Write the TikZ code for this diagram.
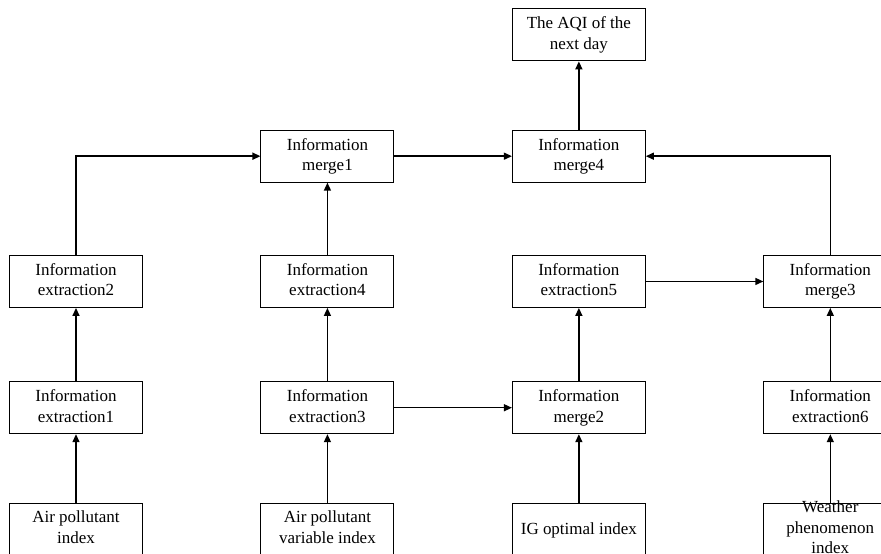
\documentclass[tikz,border=0pt]{standalone}
\usepackage{fontspec}
\setmainfont{Liberation Serif}
\usetikzlibrary{positioning,arrows.meta}

\begin{document}
\begin{tikzpicture}[node distance=2.15cm and 3.525cm,
    boxtext/.style={align=center,inner sep=0pt,font=\fontsize{14.5}{17.4}\selectfont,
                    execute at begin node={\rule{0pt}{0.9em}},
                    execute at end node={\rule[-0.22em]{0pt}{0pt}}},
    box/.style={boxtext,rectangle,draw,line width=0.8pt,minimum width=3.99cm,minimum height=1.56cm},
    link/.style={line width=1.2pt,-{Triangle[length=0.24cm,width=0.21cm]}}]
            \useasboundingbox (-2.28,-0.75) rectangle (24.15,15.87);
            \node[box] (api)               {Air pollutant\\index};
            \node[box] (avi) [right = of api] {Air pollutant\\variable index};
            \node[box] (ig)  [right = of avi] {IG optimal index};
            \node[box] (wpi) [right = of ig]  {};
            \node[boxtext] (wpt) at (wpi) {Weather\\phenomenon\\index};
            \node[box] (ie1) [above = 2.05cm of api] {Information\\extraction1};
            \node[box] (ie3) [above = 2.05cm of avi] {Information\\extraction3};
            \node[box] (m2)  [above = 2.05cm of ig]  {Information\\merge2};
            \node[box] (ie6) [above = 2.05cm of wpi] {Information\\extraction6};
            \node[box] (ie2) [above = 2.2cm of ie1] {Information\\extraction2};
            \node[box] (ie4) [above = 2.2cm of ie3] {Information\\extraction4};
            \node[box] (ie5) [above = 2.2cm of m2]  {Information\\extraction5};
            \node[box] (m3)  [above = 2.2cm of ie6] {Information\\merge3};
            \node[box] (m1)  [above = 2.17cm of ie4] {Information\\merge1};
            \node[box] (m4)  [above = 2.17cm of ie5] {Information\\merge4};
            \node[box] (aqi) [above = 2.05cm of m4]  {The AQI of the\\next day};
            \path[link](api) edge (ie1)
                    (ie1) edge (ie2)
                    (avi) edge (ie3)
                    (ie3) edge (ie4)
                    (ie4) edge (m1)
                    (ie3) edge (m2)
                    (ig)  edge (m2)
                    (m2)  edge (ie5)
                    (ie5) edge (m3)
                    (wpi) edge (ie6)
                    (ie6) edge (m3)
                    (m1)  edge (m4)
                    (m4)  edge (aqi);
            \draw[link] (ie2) |- (m1);
            \draw[link] (m3) |- (m4);
        \end{tikzpicture}
\end{document}
